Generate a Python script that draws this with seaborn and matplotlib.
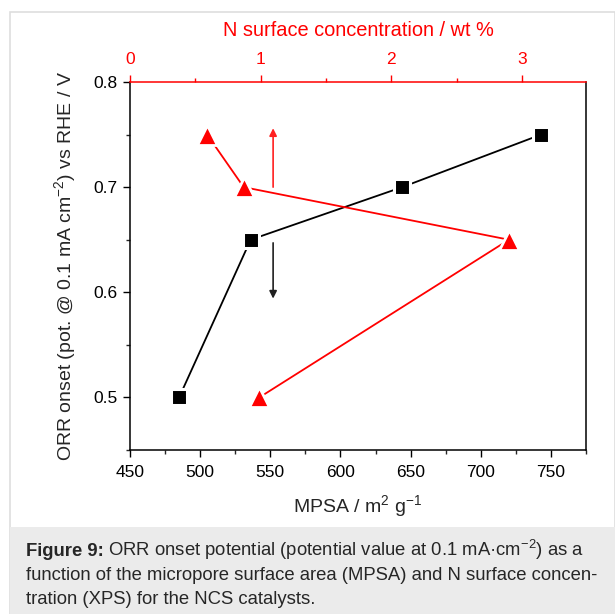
import matplotlib
matplotlib.use("Agg")
import matplotlib.pyplot as plt
import seaborn as sns
from matplotlib.patches import Rectangle

# ---- data ----
mpsa = [485, 536, 644, 743]            # m2/g
mpsa_onset = [0.50, 0.65, 0.70, 0.75]   # V
n_conc = [0.59, 0.87, 2.90, 0.99]       # wt %
n_onset = [0.75, 0.70, 0.65, 0.50]      # V

x_ticks = [450, 500, 550, 600, 650, 700, 750]
y_ticks = [0.5, 0.6, 0.7, 0.8]
top_ticks = [0, 1, 2, 3]

arrow_x = 552
red_arrow = (0.70, 0.756)
black_arrow = (0.647, 0.594)

caption_bold = "Figure 9:"
caption_rest = ["ORR onset potential (potential value at 0.1 mA\u00b7cm$^{\u22122}$) as a",
                "function of the micropore surface area (MPSA) and N surface concen-",
                "tration (XPS) for the NCS catalysts."]

sns.set_style("ticks")
plt.rcParams["font.family"] = ["Liberation Sans", "DejaVu Sans"]
plt.rcParams["mathtext.fontset"] = "custom"
plt.rcParams["mathtext.rm"] = "Liberation Sans"
plt.rcParams["mathtext.it"] = "Liberation Sans:italic"
plt.rcParams["mathtext.bf"] = "Liberation Sans:bold"

W, H = 615, 614
fig = plt.figure(figsize=(W / 100, H / 100), dpi=100)

# panel frame and caption background
fig.patches.append(Rectangle((10 / W, 0), 1 - 10 / W, 1 - 12 / H, transform=fig.transFigure,
                             facecolor="white", edgecolor="#dedede", lw=1.2, zorder=-5))
fig.patches.append(Rectangle((10 / W, 0), 1 - 10 / W, (H - 527) / H, transform=fig.transFigure,
                             facecolor="#ebebeb", edgecolor="none", zorder=-4))

ax = fig.add_axes([130 / W, 1 - 450 / H, (586 - 130) / W, (450 - 82) / H])

sns.lineplot(x=mpsa, y=mpsa_onset, ax=ax, color="black", lw=1.3, marker="s", ms=11.5,
             mfc="black", mec="white", mew=2.2, sort=False, zorder=3)
ax.set_xlim(450, 775)
ax.set_ylim(0.45, 0.8)
ax.set_xticks(x_ticks)
ax.set_yticks(y_ticks)
ax.set_xticks([475, 525, 575, 625, 675, 725, 775], minor=True)
ax.set_yticks([0.45, 0.55, 0.65, 0.75], minor=True)
ax.set_yticklabels([f"{v:.1f}" for v in y_ticks])
ax.tick_params(axis="both", which="major", direction="out", length=5, width=1,
               labelsize=12.5, colors="black")
ax.tick_params(axis="both", which="minor", direction="out", length=3, width=1)
ax.tick_params(axis="x", pad=6)
ax.tick_params(axis="y", pad=4)
for s in ax.spines.values():
    s.set_linewidth(1.1)
    s.set_color("black")
ax.spines["top"].set_visible(False)
ax.set_xlabel("MPSA / m$^{2}$ g$^{-1}$", fontsize=14, labelpad=9)
ax.set_ylabel("ORR onset (pot. @ 0.1 mA cm$^{-2}$) vs RHE / V", fontsize=14, labelpad=11)

ax.annotate("", xy=(arrow_x, red_arrow[1]), xytext=(arrow_x, red_arrow[0]),
            arrowprops=dict(arrowstyle="-|>", color="#ff2020", lw=1.2, mutation_scale=11,
                            shrinkA=0, shrinkB=0), zorder=2)
ax.annotate("", xy=(arrow_x, black_arrow[1]), xytext=(arrow_x, black_arrow[0]),
            arrowprops=dict(arrowstyle="-|>", color="#202020", lw=1.2, mutation_scale=11,
                            shrinkA=0, shrinkB=0), zorder=2)

ax2 = ax.twiny()
sns.lineplot(x=n_conc, y=n_onset, ax=ax2, color="red", lw=1.3, marker="^", ms=15,
             mfc="red", mec="white", mew=2.0, sort=False, zorder=3)
ax2.set_xlim(0, 3.49)
ax2.set_xticks(top_ticks)
ax2.set_xticks([0.5, 1.5, 2.5], minor=True)
ax2.tick_params(axis="x", which="major", direction="out", length=5, width=1,
                labelsize=12.5, colors="red", pad=6)
ax2.tick_params(axis="x", which="minor", direction="out", length=3, width=1, colors="red")
for k, s in ax2.spines.items():
    s.set_visible(k == "top")
ax2.spines["top"].set_color("red")
ax2.spines["top"].set_linewidth(1.1)
ax2.set_xlabel("N surface concentration / wt %", fontsize=14.4, color="red", labelpad=11)
ax2.set_ylabel("")

# caption
fig.canvas.draw()
r = fig.canvas.get_renderer()
x0 = 26 / W
fs = 13.3
ys = [1 - 556 / H, 1 - 580 / H, 1 - 604 / H]
tb = fig.text(x0, ys[0], caption_bold, fontsize=fs, fontweight="bold", va="baseline")
bw = tb.get_window_extent(renderer=r).width / W
fig.text(x0 + bw + 4 / W, ys[0], caption_rest[0], fontsize=fs, va="baseline")
fig.text(x0, ys[1], caption_rest[1], fontsize=fs, va="baseline")
fig.text(x0, ys[2], caption_rest[2], fontsize=fs, va="baseline")

fig.savefig("out.png", dpi=100)
